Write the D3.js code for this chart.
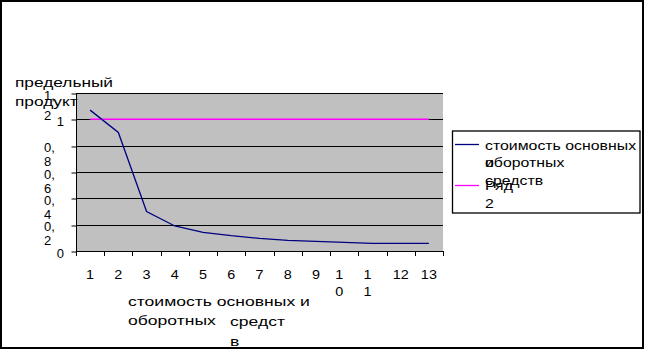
<!DOCTYPE html>
<html><head><meta charset="utf-8">
<script src="https://cdn.jsdelivr.net/npm/d3@7"></script>
<style>html,body{margin:0;padding:0;background:#fff}text{font-family:"Liberation Sans",Arial,sans-serif;fill:#000}</style>
</head><body>
<script>
const categories = ["1","2","3","4","5","6","7","8","9","10","11","12","13"];
const series1 = [1.07, 0.90, 0.30, 0.19, 0.142, 0.116, 0.096, 0.081, 0.073, 0.066, 0.058, 0.058, 0.058];
const series2 = [1,1,1,1,1,1,1,1,1,1,1,1,1];
const seriesNames = ["стоимость основных и оборотных средств", "Ряд 2"];
const yTicks = [0, 0.2, 0.4, 0.6, 0.8, 1, 1.2];
const yTickLabels = [["0"],["0,","2"],["0,","4"],["0,","6"],["0,","8"],["1"],["1,","2"]];
const xTickLabels = [["1"],["2"],["3"],["4"],["5"],["6"],["7"],["8"],["9"],["1","0"],["1","1"],["12"],["13"]];

const W = 651, H = 352;
const svg = d3.select("body").append("svg").attr("width", W).attr("height", H);
svg.append("rect").attr("width", W).attr("height", H).attr("fill", "#fff");

const x = d3.scaleBand().domain(categories).range([76, 443]).padding(0);
const y = d3.scaleLinear().domain([0, 1.2]).range([251, 93]);

function stext(g, px, py, str, sx, size, anchor) {
  return g.append("text")
    .attr("transform", `translate(${px},${py}) scale(${sx},1)`)
    .attr("font-size", size).attr("text-anchor", anchor || "start").text(str);
}

// outer frame
svg.append("rect").attr("x", 1).attr("y", 1).attr("width", 642).attr("height", 347)
  .attr("fill", "none").attr("stroke", "#000").attr("stroke-width", 2);

// plot area
svg.append("rect").attr("x", 76).attr("y", y(1.2)).attr("width", 443 - 76).attr("height", y(0) - y(1.2))
  .attr("fill", "#c0c0c0");
svg.append("g").selectAll("line").data(yTicks).join("line")
  .attr("x1", 76).attr("x2", 443).attr("y1", d => Math.round(y(d)) + 0.5).attr("y2", d => Math.round(y(d)) + 0.5)
  .attr("stroke", "#000").attr("stroke-width", 1);

// y axis
const yAxis = svg.append("g").attr("transform", "translate(76.5,0)")
  .call(d3.axisLeft(y).tickValues(yTicks).tickSize(5).tickFormat(""));
yAxis.selectAll("line").attr("stroke", "#000").attr("transform", (d) => `translate(0,${Math.round(y(d)) + 0.5 - y(d)})`);
yAxis.select(".domain").attr("stroke", "#000").attr("d", `M0,${y(1.2)}V${y(0)}`);

// y labels
const yl = svg.append("g");
yTicks.forEach((t, i) => {
  const lines = yTickLabels[i];
  const ty = y(t);
  if (lines.length === 1) {
    stext(yl, 64, ty + 6.5, lines[0], 1, 13, "end");
  } else {
    const gap = t > 1.1 ? 20 : 14;
    stext(yl, 44, ty + 6.5, lines[0], 1, 13, "start");
    stext(yl, 44, ty + 6.5 + gap, lines[1], 1, 13, "start");
  }
});

// x axis
svg.append("line").attr("x1", 76).attr("x2", 443).attr("y1", 251.5).attr("y2", 251.5).attr("stroke", "#000");
const xb = categories.map(c => x(c)).concat([x.range()[1]]);
svg.append("g").selectAll("line").data(xb).join("line")
  .attr("x1", d => Math.round(d) + 0.5).attr("x2", d => Math.round(d) + 0.5)
  .attr("y1", 251).attr("y2", 256).attr("stroke", "#000");

const xl = svg.append("g");
categories.forEach((c, i) => {
  const cx = x(c) + x.bandwidth() / 2;
  const lines = xTickLabels[i];
  if (lines.length === 1) {
    stext(xl, cx, 279, lines[0], 1.2, 12, "middle");
  } else {
    stext(xl, cx - 5, 279, lines[0], 1.2, 12, "middle");
    stext(xl, cx - 5, 296, lines[1], 1.2, 12, "middle");
  }
});

// axis titles
const tg = svg.append("g");
stext(tg, 15, 87, "предельный", 1.33, 13);
stext(tg, 15, 106, "продукт", 1.33, 13);
stext(tg, 128, 305.5, "стоимость основных и", 1.35, 13);
stext(tg, 128, 325, "оборотных", 1.35, 13);
stext(tg, 230, 325.5, "средст", 1.35, 13);
stext(tg, 230, 346, "в", 1.35, 13);

// lines
const line = d3.line().x((d, i) => x(categories[i]) + x.bandwidth() / 2).y(d => y(d));
svg.append("path").datum(series2).attr("d", line).attr("fill", "none")
  .attr("stroke", "#ff00ff").attr("stroke-width", 1.5);
svg.append("path").datum(series1).attr("d", line).attr("fill", "none")
  .attr("stroke", "#000080").attr("stroke-width", 1.3);

// legend
const lg = svg.append("g");
lg.append("rect").attr("x", 452.5).attr("y", 131).attr("width", 187.5).attr("height", 82)
  .attr("fill", "#fff").attr("stroke", "#000").attr("stroke-width", 1.3);
lg.append("line").attr("x1", 455).attr("x2", 479).attr("y1", 144.5).attr("y2", 144.5)
  .attr("stroke", "#000080").attr("stroke-width", 1.3);
lg.append("line").attr("x1", 455).attr("x2", 479).attr("y1", 185.5).attr("y2", 185.5)
  .attr("stroke", "#ff00ff").attr("stroke-width", 1.3);
const n1 = seriesNames[0].split(" ");
stext(lg, 485, 150, n1[0] + " " + n1[1], 1.22, 13);
stext(lg, 485, 167, n1[2], 1.22, 13);
stext(lg, 485, 167, n1[3], 1.22, 13);
stext(lg, 485, 185, n1[4], 1.22, 13);
const n2 = seriesNames[1].split(" ");
stext(lg, 485, 190, n2[0], 1.22, 13);
stext(lg, 485, 207.5, n2[1], 1.22, 13);
</script>
</body></html>
